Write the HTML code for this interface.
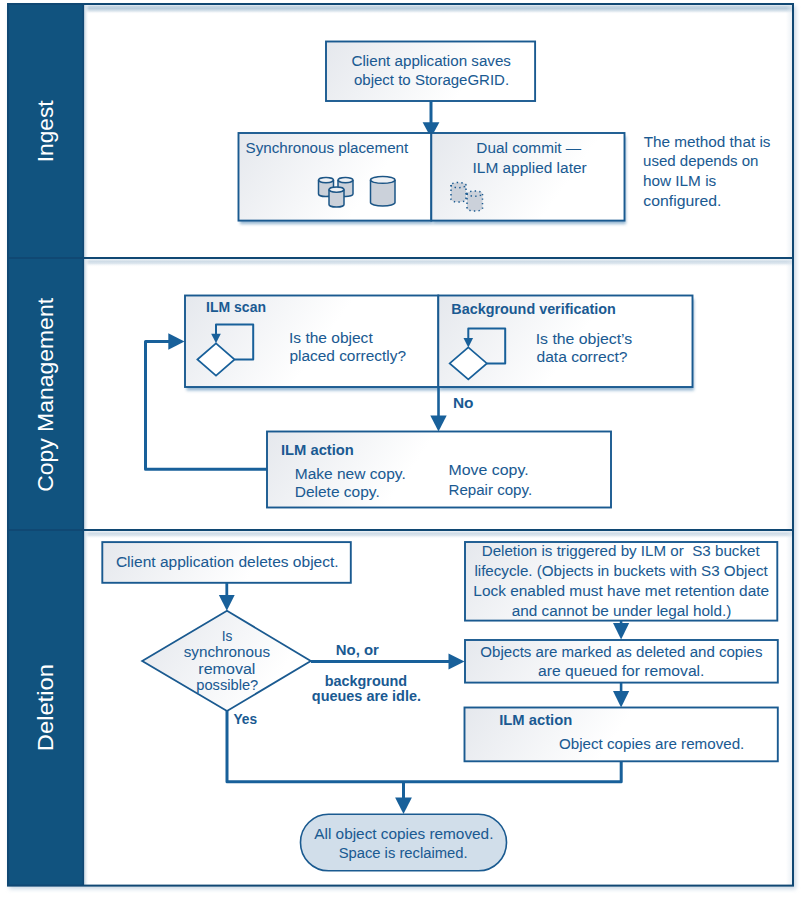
<!DOCTYPE html><html><head><meta charset="utf-8"><style>html,body{margin:0;padding:0;background:#fff;}svg{display:block;font-family:"Liberation Sans",sans-serif;}</style></head><body>
<svg width="803" height="898" viewBox="0 0 803 898">
<defs>
<linearGradient id="g1" x1="0" y1="0.75" x2="1" y2="0.25"><stop offset="0" stop-color="#e6e9ef"/><stop offset="0.55" stop-color="#ffffff"/><stop offset="1" stop-color="#ffffff"/></linearGradient>
<linearGradient id="shTop" x1="0" y1="0" x2="0" y2="1"><stop offset="0" stop-color="#e8eff5"/><stop offset="0.15" stop-color="#c4d5e2"/><stop offset="0.4" stop-color="#b9cddc"/><stop offset="0.7" stop-color="#dfe8ef"/><stop offset="1" stop-color="#ffffff" stop-opacity="0"/></linearGradient>
<linearGradient id="shMid" x1="0" y1="0" x2="0" y2="1"><stop offset="0" stop-color="#edf2f6"/><stop offset="0.3" stop-color="#cfdce7"/><stop offset="0.55" stop-color="#dbe5ed"/><stop offset="1" stop-color="#ffffff" stop-opacity="0"/></linearGradient>
<linearGradient id="shLeft" x1="0" y1="0" x2="1" y2="0"><stop offset="0" stop-color="#f4f7fa"/><stop offset="0.25" stop-color="#d9e3eb"/><stop offset="1" stop-color="#ffffff" stop-opacity="0"/></linearGradient>
<linearGradient id="shRight" x1="1" y1="0" x2="0" y2="0"><stop offset="0" stop-color="#dfe8ef" stop-opacity="0.6"/><stop offset="1" stop-color="#dfe8ef" stop-opacity="0"/></linearGradient>
<filter id="blur" x="-10%" y="-10%" width="120%" height="140%"><feGaussianBlur stdDeviation="1.8"/></filter>
<filter id="blur2" x="-10%" y="-10%" width="120%" height="130%"><feGaussianBlur stdDeviation="2"/></filter>
</defs>
<rect x="9" y="6" width="787" height="883" fill="#a9bfd3" opacity="0.6" filter="url(#blur2)"/>
<rect x="7" y="3" width="787" height="883" fill="#ffffff"/>
<rect x="84" y="5" width="708" height="9" fill="url(#shTop)"/>
<rect x="84" y="259" width="708" height="8" fill="url(#shMid)"/>
<rect x="84" y="531" width="708" height="8" fill="url(#shMid)"/>
<rect x="84" y="5" width="5" height="880" fill="url(#shLeft)"/>
<rect x="786" y="5" width="6" height="880" fill="url(#shRight)"/>
<rect x="7" y="3" width="77" height="883" fill="#11537f"/>
<rect x="82.6" y="3" width="1.6" height="883" fill="#104873"/>
<rect x="8" y="4" width="785" height="881.6" fill="none" stroke="#104873" stroke-width="2"/>
<rect x="7" y="257" width="787" height="2" fill="#104873"/>
<rect x="7" y="529" width="787" height="2" fill="#104873"/>
<text transform="translate(52.7,160.2) rotate(-90)" x="-2.04" y="0" font-size="22.8" fill="#ffffff" textLength="61.75" lengthAdjust="spacingAndGlyphs">Ingest</text>
<text transform="translate(52.7,490.7) rotate(-90)" x="-1.15" y="0" font-size="22.8" fill="#ffffff" textLength="193.86" lengthAdjust="spacingAndGlyphs">Copy Management</text>
<text transform="translate(52.7,749.3) rotate(-90)" x="-1.90" y="0" font-size="22.8" fill="#ffffff" textLength="87.02" lengthAdjust="spacingAndGlyphs">Deletion</text>
<linearGradient id="ug1" gradientUnits="userSpaceOnUse" x1="326" y1="41.5" x2="440.7" y2="121.8"><stop offset="0" stop-color="#e5e8ed"/><stop offset="1" stop-color="#ffffff"/></linearGradient>
<rect x="326" y="41.5" width="209.10000000000002" height="59.5" fill="url(#ug1)" stroke="#1a5a90" stroke-width="1.9"/>
<text x="351.54" y="66.0" font-size="15.2" fill="#1a5a92" stroke="#1a5a92" stroke-width="0.05" textLength="159.41" lengthAdjust="spacingAndGlyphs">Client application saves</text>
<text x="354.00" y="85.2" font-size="15.2" fill="#1a5a92" stroke="#1a5a92" stroke-width="0.05" textLength="155.10" lengthAdjust="spacingAndGlyphs">object to StorageGRID.</text>
<line x1="431" y1="101" x2="431" y2="123.30000000000001" stroke="#18609a" stroke-width="3"/>
<polygon points="422.6,122.30000000000001 439.4,122.30000000000001 431,137.8" fill="#18609a"/>
<rect x="240.0" y="136.5" width="192.8" height="87.6" fill="#8cb0cd" opacity="0.9" filter="url(#blur)"/>
<linearGradient id="ug2" gradientUnits="userSpaceOnUse" x1="238.5" y1="133" x2="353.2" y2="213.3"><stop offset="0" stop-color="#e5e8ed"/><stop offset="1" stop-color="#ffffff"/></linearGradient>
<rect x="238.5" y="133" width="192.8" height="87.6" fill="url(#ug2)" stroke="#1a5a90" stroke-width="1.9"/>
<rect x="432.8" y="136.5" width="193.2" height="87.6" fill="#8cb0cd" opacity="0.9" filter="url(#blur)"/>
<linearGradient id="ug3" gradientUnits="userSpaceOnUse" x1="431.3" y1="133" x2="546.0" y2="213.3"><stop offset="0" stop-color="#e5e8ed"/><stop offset="1" stop-color="#ffffff"/></linearGradient>
<rect x="431.3" y="133" width="193.2" height="87.6" fill="url(#ug3)" stroke="#1a5a90" stroke-width="1.9"/>
<text x="245.52" y="152.9" font-size="15.2" fill="#1a5a92" stroke="#1a5a92" stroke-width="0.05" textLength="162.72" lengthAdjust="spacingAndGlyphs">Synchronous placement</text>
<text x="476.37" y="152.8" font-size="15.2" fill="#1a5a92" stroke="#1a5a92" stroke-width="0.05" textLength="104.82" lengthAdjust="spacingAndGlyphs">Dual commit —</text>
<text x="472.51" y="172.6" font-size="15.2" fill="#1a5a92" stroke="#1a5a92" stroke-width="0.05" textLength="114.17" lengthAdjust="spacingAndGlyphs">ILM applied later</text>
<text x="643.69" y="146.7" font-size="15.2" fill="#1a5a92" stroke="#1a5a92" stroke-width="0.05" textLength="126.78" lengthAdjust="spacingAndGlyphs">The method that is</text>
<text x="643.02" y="166.3" font-size="15.2" fill="#1a5a92" stroke="#1a5a92" stroke-width="0.05" textLength="115.41" lengthAdjust="spacingAndGlyphs">used depends on</text>
<text x="642.93" y="185.9" font-size="15.2" fill="#1a5a92" stroke="#1a5a92" stroke-width="0.05" textLength="73.30" lengthAdjust="spacingAndGlyphs">how ILM is</text>
<text x="643.37" y="205.5" font-size="15.2" fill="#1a5a92" stroke="#1a5a92" stroke-width="0.05" textLength="78.10" lengthAdjust="spacingAndGlyphs">configured.</text>
<path d="M318.5,180.1 L318.5,193.9 A7.5,2.6 0 0 0 333.5,193.9 L333.5,180.1 A7.5,2.6 0 0 0 318.5,180.1 Z" fill="#cbd1da" stroke="#1b5586" stroke-width="1.5"/>
<path d="M318.5,180.1 A7.5,2.6 0 0 0 333.5,180.1" fill="none" stroke="#1b5586" stroke-width="1.5"/>
<ellipse cx="326.0" cy="180.1" rx="6.0" ry="1.6" fill="#eef1f5"/>
<path d="M338,180.1 L338,193.9 A7.5,2.6 0 0 0 353,193.9 L353,180.1 A7.5,2.6 0 0 0 338,180.1 Z" fill="#cbd1da" stroke="#1b5586" stroke-width="1.5"/>
<path d="M338,180.1 A7.5,2.6 0 0 0 353,180.1" fill="none" stroke="#1b5586" stroke-width="1.5"/>
<ellipse cx="345.5" cy="180.1" rx="6.0" ry="1.6" fill="#eef1f5"/>
<path d="M329,189.6 L329,204.4 A7.5,2.6 0 0 0 344,204.4 L344,189.6 A7.5,2.6 0 0 0 329,189.6 Z" fill="#cbd1da" stroke="#1b5586" stroke-width="1.5"/>
<path d="M329,189.6 A7.5,2.6 0 0 0 344,189.6" fill="none" stroke="#1b5586" stroke-width="1.5"/>
<ellipse cx="336.5" cy="189.6" rx="6.0" ry="1.6" fill="#eef1f5"/>
<path d="M370.5,179.93 L370.5,202.57 A12.25,3.43 0 0 0 395,202.57 L395,179.93 A12.25,3.43 0 0 0 370.5,179.93 Z" fill="#cbd1da" stroke="#1b5586" stroke-width="1.5"/>
<path d="M370.5,179.93 A12.25,3.43 0 0 0 395,179.93" fill="none" stroke="#1b5586" stroke-width="1.5"/>
<ellipse cx="382.75" cy="179.93" rx="10.75" ry="2.43" fill="#eef1f5"/>
<path d="M451,185.1 L451,199.4 A7.5,2.6 0 0 0 466,199.4 L466,185.1 A7.5,2.6 0 0 0 451,185.1 Z" fill="#cbd1da" stroke="#1a5a90" stroke-width="1.5" stroke-dasharray="1.4 3.1"/>
<path d="M451,185.1 A7.5,2.6 0 0 0 466,185.1" fill="none" stroke="#1a5a90" stroke-width="1.5" stroke-dasharray="1.4 3.1"/>
<path d="M467,193.6 L467,208.4 A7.75,2.6 0 0 0 482.5,208.4 L482.5,193.6 A7.75,2.6 0 0 0 467,193.6 Z" fill="#cbd1da" stroke="#1a5a90" stroke-width="1.5" stroke-dasharray="1.4 3.1"/>
<path d="M467,193.6 A7.75,2.6 0 0 0 482.5,193.6" fill="none" stroke="#1a5a90" stroke-width="1.5" stroke-dasharray="1.4 3.1"/>
<rect x="186.5" y="299.0" width="253.3" height="91.5" fill="#8cb0cd" opacity="0.9" filter="url(#blur)"/>
<linearGradient id="ug4" gradientUnits="userSpaceOnUse" x1="185" y1="295.5" x2="299.7" y2="375.8"><stop offset="0" stop-color="#e5e8ed"/><stop offset="1" stop-color="#ffffff"/></linearGradient>
<rect x="185" y="295.5" width="253.3" height="91.5" fill="url(#ug4)" stroke="#1a5a90" stroke-width="1.9"/>
<rect x="439.8" y="299.0" width="254.2" height="91.5" fill="#8cb0cd" opacity="0.9" filter="url(#blur)"/>
<linearGradient id="ug5" gradientUnits="userSpaceOnUse" x1="438.3" y1="295.5" x2="553.0" y2="375.8"><stop offset="0" stop-color="#e5e8ed"/><stop offset="1" stop-color="#ffffff"/></linearGradient>
<rect x="438.3" y="295.5" width="254.2" height="91.5" fill="url(#ug5)" stroke="#1a5a90" stroke-width="1.9"/>
<text x="206.09" y="312.2" font-size="15.2" font-weight="bold" fill="#1a5a92" textLength="59.94" lengthAdjust="spacingAndGlyphs">ILM scan</text>
<text x="289.00" y="343.1" font-size="15.2" fill="#1a5a92" stroke="#1a5a92" stroke-width="0.05" textLength="83.71" lengthAdjust="spacingAndGlyphs">Is the object</text>
<text x="289.40" y="361.0" font-size="15.2" fill="#1a5a92" stroke="#1a5a92" stroke-width="0.05" textLength="116.63" lengthAdjust="spacingAndGlyphs">placed correctly?</text>
<text x="451.37" y="314.4" font-size="15.2" font-weight="bold" fill="#1a5a92" textLength="164.42" lengthAdjust="spacingAndGlyphs">Background verification</text>
<text x="535.67" y="343.6" font-size="15.2" fill="#1a5a92" stroke="#1a5a92" stroke-width="0.05" textLength="96.60" lengthAdjust="spacingAndGlyphs">Is the object’s</text>
<text x="536.48" y="362.0" font-size="15.2" fill="#1a5a92" stroke="#1a5a92" stroke-width="0.05" textLength="90.99" lengthAdjust="spacingAndGlyphs">data correct?</text>
<polygon points="197.4,359.5 216.0,343.3 234.6,359.5 216.0,375.7" fill="#ffffff" stroke="#18609a" stroke-width="1.7"/>
<polyline points="234.6,359.5 253.2,359.5 253.2,324.5 216.0,324.5 216.0,334.3" fill="none" stroke="#18609a" stroke-width="2" stroke-linejoin="round"/>
<polygon points="211.2,333.8 220.8,333.8 216.0,343.3" fill="#18609a"/>
<polygon points="449.7,363.4 468.3,347.4 486.90000000000003,363.4 468.3,379.4" fill="#ffffff" stroke="#18609a" stroke-width="1.7"/>
<polyline points="486.90000000000003,363.4 505.2,363.4 505.2,328.5 468.3,328.5 468.3,338.4" fill="none" stroke="#18609a" stroke-width="2" stroke-linejoin="round"/>
<polygon points="463.5,337.9 473.1,337.9 468.3,347.4" fill="#18609a"/>
<line x1="438.5" y1="387" x2="438.5" y2="416.5" stroke="#18609a" stroke-width="2.6"/>
<polygon points="430.3,415.5 446.7,415.5 438.5,431.5" fill="#18609a"/>
<text x="452.90" y="407.9" font-size="15.2" font-weight="bold" fill="#1a5a92" textLength="20.57" lengthAdjust="spacingAndGlyphs">No</text>
<polyline points="267,469.3 145.5,469.3 145.5,341.5 169,341.5" fill="none" stroke="#18609a" stroke-width="3" stroke-linejoin="round"/>
<polygon points="168.3,333.3 168.3,349.7 184.5,341.5" fill="#18609a"/>
<linearGradient id="ug6" gradientUnits="userSpaceOnUse" x1="267" y1="431.5" x2="381.7" y2="511.8"><stop offset="0" stop-color="#e5e8ed"/><stop offset="1" stop-color="#ffffff"/></linearGradient>
<rect x="267" y="431.5" width="344" height="76.0" fill="url(#ug6)" stroke="#1a5a90" stroke-width="1.9"/>
<text x="280.94" y="454.9" font-size="15.2" font-weight="bold" fill="#1a5a92" textLength="72.94" lengthAdjust="spacingAndGlyphs">ILM action</text>
<text x="294.76" y="479.1" font-size="15.2" fill="#1a5a92" stroke="#1a5a92" stroke-width="0.05" textLength="110.96" lengthAdjust="spacingAndGlyphs">Make new copy.</text>
<text x="294.76" y="497.1" font-size="15.2" fill="#1a5a92" stroke="#1a5a92" stroke-width="0.05" textLength="85.00" lengthAdjust="spacingAndGlyphs">Delete copy.</text>
<text x="448.53" y="475.4" font-size="15.2" fill="#1a5a92" stroke="#1a5a92" stroke-width="0.05" textLength="80.07" lengthAdjust="spacingAndGlyphs">Move copy.</text>
<text x="448.59" y="494.6" font-size="15.2" fill="#1a5a92" stroke="#1a5a92" stroke-width="0.05" textLength="83.53" lengthAdjust="spacingAndGlyphs">Repair copy.</text>
<linearGradient id="ug7" gradientUnits="userSpaceOnUse" x1="102.3" y1="542.1" x2="217.0" y2="622.4"><stop offset="0" stop-color="#e5e8ed"/><stop offset="1" stop-color="#ffffff"/></linearGradient>
<rect x="102.3" y="542.1" width="248.5" height="40.69999999999993" fill="url(#ug7)" stroke="#1a5a90" stroke-width="1.9"/>
<text x="115.92" y="567.2" font-size="15.2" fill="#1a5a92" stroke="#1a5a92" stroke-width="0.05" textLength="222.71" lengthAdjust="spacingAndGlyphs">Client application deletes object.</text>
<line x1="226.8" y1="582.8" x2="226.8" y2="596.0" stroke="#18609a" stroke-width="2.8"/>
<polygon points="218.9,595.0 234.70000000000002,595.0 226.8,610.8" fill="#18609a"/>
<linearGradient id="ug8" gradientUnits="userSpaceOnUse" x1="150" y1="615" x2="264.7" y2="695.3"><stop offset="0" stop-color="#e5e8ed"/><stop offset="1" stop-color="#ffffff"/></linearGradient>
<polygon points="142.2,661 227,610.8 310.8,661 227,711" fill="url(#ug8)" stroke="#1a5a90" stroke-width="1.8"/>
<text x="221.76" y="641.0" font-size="14" fill="#1a5a92" stroke="#1a5a92" stroke-width="0.05" textLength="10.69" lengthAdjust="spacingAndGlyphs">Is</text>
<text x="183.74" y="657.2" font-size="14" fill="#1a5a92" stroke="#1a5a92" stroke-width="0.05" textLength="86.39" lengthAdjust="spacingAndGlyphs">synchronous</text>
<text x="198.36" y="674.0" font-size="14" fill="#1a5a92" stroke="#1a5a92" stroke-width="0.05" textLength="57.01" lengthAdjust="spacingAndGlyphs">removal</text>
<text x="196.25" y="689.7" font-size="14" fill="#1a5a92" stroke="#1a5a92" stroke-width="0.05" textLength="61.97" lengthAdjust="spacingAndGlyphs">possible?</text>
<polyline points="227,711 227,781.8 621.2,781.8 621.2,760.5" fill="none" stroke="#18609a" stroke-width="3" stroke-linejoin="round"/>
<text x="233.42" y="724.4" font-size="15.2" font-weight="bold" fill="#1a5a92" textLength="23.71" lengthAdjust="spacingAndGlyphs">Yes</text>
<line x1="311" y1="661.5" x2="449" y2="661.5" stroke="#18609a" stroke-width="3"/>
<polygon points="448.5,653.6 448.5,669.4 464.5,661.5" fill="#18609a"/>
<text x="335.83" y="654.7" font-size="15.2" font-weight="bold" fill="#1a5a92" textLength="43.07" lengthAdjust="spacingAndGlyphs">No, or</text>
<text x="324.76" y="686.4" font-size="15.2" font-weight="bold" fill="#1a5a92" textLength="82.41" lengthAdjust="spacingAndGlyphs">background</text>
<text x="311.82" y="700.6" font-size="15.2" font-weight="bold" fill="#1a5a92" textLength="109.17" lengthAdjust="spacingAndGlyphs">queues are idle.</text>
<linearGradient id="ug9" gradientUnits="userSpaceOnUse" x1="465" y1="542" x2="579.7" y2="622.3"><stop offset="0" stop-color="#e5e8ed"/><stop offset="1" stop-color="#ffffff"/></linearGradient>
<rect x="465" y="542" width="312.29999999999995" height="78.60000000000002" fill="url(#ug9)" stroke="#1a5a90" stroke-width="1.9"/>
<text x="481.69" y="555.9" font-size="15.2" fill="#1a5a92" stroke="#1a5a92" stroke-width="0.05" textLength="277.93" lengthAdjust="spacingAndGlyphs">Deletion is triggered by ILM or  S3 bucket</text>
<text x="474.41" y="575.9" font-size="15.2" fill="#1a5a92" stroke="#1a5a92" stroke-width="0.05" textLength="293.28" lengthAdjust="spacingAndGlyphs">lifecycle. (Objects in buckets with S3 Object</text>
<text x="473.37" y="595.8" font-size="15.2" fill="#1a5a92" stroke="#1a5a92" stroke-width="0.05" textLength="295.71" lengthAdjust="spacingAndGlyphs">Lock enabled must have met retention date</text>
<text x="511.79" y="615.7" font-size="15.2" fill="#1a5a92" stroke="#1a5a92" stroke-width="0.05" textLength="219.50" lengthAdjust="spacingAndGlyphs">and cannot be under legal hold.)</text>
<line x1="621.1" y1="620" x2="621.1" y2="624.0" stroke="#18609a" stroke-width="2.6"/>
<polygon points="613.0,623.0 629.2,623.0 621.1,639.5" fill="#18609a"/>
<linearGradient id="ug10" gradientUnits="userSpaceOnUse" x1="465" y1="640" x2="579.7" y2="720.3"><stop offset="0" stop-color="#e5e8ed"/><stop offset="1" stop-color="#ffffff"/></linearGradient>
<rect x="465" y="640" width="312.79999999999995" height="42.60000000000002" fill="url(#ug10)" stroke="#1a5a90" stroke-width="1.9"/>
<text x="480.32" y="656.8" font-size="15.2" fill="#1a5a92" stroke="#1a5a92" stroke-width="0.05" textLength="282.18" lengthAdjust="spacingAndGlyphs">Objects are marked as deleted and copies</text>
<text x="538.07" y="675.6" font-size="15.2" fill="#1a5a92" stroke="#1a5a92" stroke-width="0.05" textLength="166.38" lengthAdjust="spacingAndGlyphs">are queued for removal.</text>
<line x1="621.1" y1="683" x2="621.1" y2="692.0" stroke="#18609a" stroke-width="2.6"/>
<polygon points="613.0,691.0 629.2,691.0 621.1,707.5" fill="#18609a"/>
<linearGradient id="ug11" gradientUnits="userSpaceOnUse" x1="464.5" y1="707.5" x2="579.2" y2="787.8"><stop offset="0" stop-color="#e5e8ed"/><stop offset="1" stop-color="#ffffff"/></linearGradient>
<rect x="464.5" y="707.5" width="313.29999999999995" height="53.799999999999955" fill="url(#ug11)" stroke="#1a5a90" stroke-width="1.9"/>
<text x="499.14" y="725.2" font-size="15.2" font-weight="bold" fill="#1a5a92" textLength="73.14" lengthAdjust="spacingAndGlyphs">ILM action</text>
<text x="558.92" y="748.7" font-size="15.2" fill="#1a5a92" stroke="#1a5a92" stroke-width="0.05" textLength="185.40" lengthAdjust="spacingAndGlyphs">Object copies are removed.</text>
<line x1="403.5" y1="782" x2="403.5" y2="798.5" stroke="#18609a" stroke-width="3"/>
<polygon points="395.1,797.5 411.9,797.5 403.5,814" fill="#18609a"/>
<rect x="300.5" y="814.3" width="206" height="56.5" rx="28" ry="28" fill="#d1deea" stroke="#1a5a90" stroke-width="1.6"/>
<text x="314.30" y="838.5" font-size="15.2" fill="#1a5a92" stroke="#1a5a92" stroke-width="0.05" textLength="179.12" lengthAdjust="spacingAndGlyphs">All object copies removed.</text>
<text x="338.64" y="858.0" font-size="15.2" fill="#1a5a92" stroke="#1a5a92" stroke-width="0.05" textLength="128.91" lengthAdjust="spacingAndGlyphs">Space is reclaimed.</text>
</svg></body></html>
